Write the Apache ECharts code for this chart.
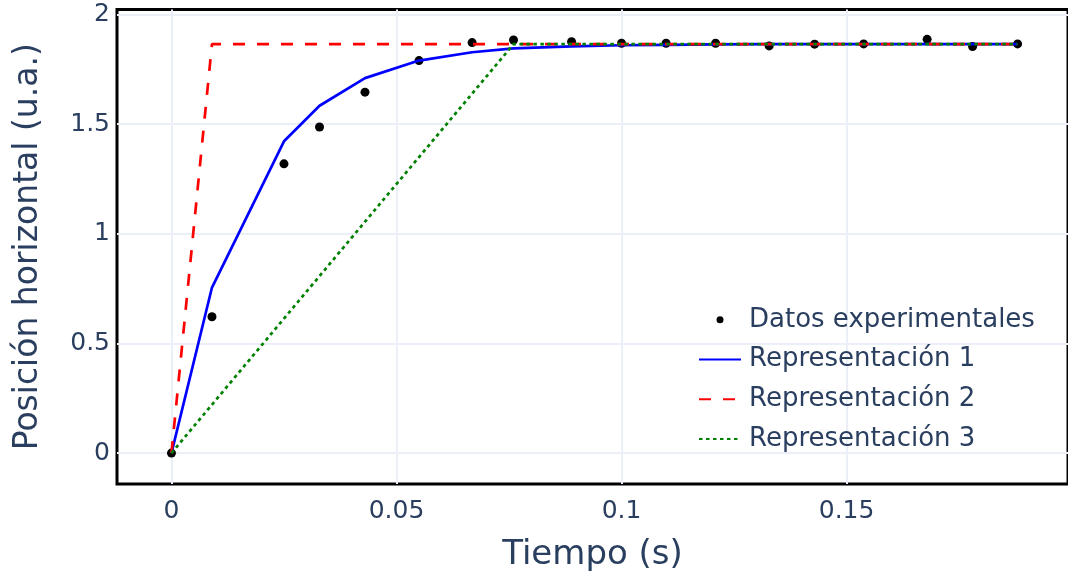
<!DOCTYPE html>
<html>
<head>
<meta charset="utf-8">
<script src="https://cdn.jsdelivr.net/npm/echarts@6/dist/echarts.min.js"></script>
<style>
    html, body { margin: 0; padding: 0; background: #fff; }
    #chart { width: 1068px; height: 577px; }
</style>
</head>
<body>
<div id="chart"></div>
<script>
// tiempo de cada foto (s) y posicion medida (u.a.)
const tiempo = [0, 0.0090, 0.0250, 0.0329, 0.0430, 0.0550, 0.0668, 0.0760, 0.0889, 0.1000,
    0.1099, 0.1209, 0.1328, 0.1429, 0.1538, 0.1679, 0.1780, 0.1880]
const posicion = [0, 0.622, 1.319, 1.487, 1.646, 1.790, 1.872, 1.884, 1.876, 1.869,
    1.869, 1.869, 1.857, 1.865, 1.866, 1.887, 1.854, 1.866]

// representacion 1, evaluada en los mismos tiempos
const rep1 = [0, 0.755, 1.422, 1.584, 1.710, 1.790, 1.828, 1.846, 1.855, 1.860,
    1.862, 1.864, 1.865, 1.865, 1.865, 1.865, 1.865, 1.865]

// representaciones 2 y 3 (tramos rectos)
const tiempoRep2 = [0, 0.0090, 0.1880]
const rep2 = [0, 1.865, 1.865]
const tiempoRep3 = [0, 0.0760, 0.1880]
const rep3 = [0, 1.865, 1.865]

const xRange = [-0.0121, 0.1992]
const yRange = [-0.141, 2.023]
const xStep = 0.05
const yStep = 0.5

const font = 'DejaVu Sans'
const textColor = '#2a3f5f'
const gridColor = '#ebf0f8'

function pares(xs, ys) {
    return xs.map((x, i) => [x, ys[i]])
}

// en la leyenda solo la linea, sin el punto del medio
function itemLinea(name) {
    return { name: name, itemStyle: { opacity: 0 } }
}

let myChart = echarts.init(document.getElementById('chart'))
myChart.setOption({
    animation: false,
    backgroundColor: '#fff',
    textStyle: { fontFamily: font, color: textColor },
    grid: {
        left: 117,
        right: -3,
        top: 9.5,
        bottom: 91.5,
        show: true,
        borderColor: '#000',
        borderWidth: 3,
        backgroundColor: 'transparent'
    },
    legend: {
        orient: 'vertical',
        left: 698,
        top: 300,
        padding: 0,
        itemWidth: 42,
        itemHeight: 7,
        itemGap: 0,
        textStyle: {
            fontFamily: font,
            fontSize: 26,
            color: textColor,
            lineHeight: 39.7,
            padding: [0, 0, 0, 3]
        },
        data: [
            'Datos experimentales',
            itemLinea('Representación 1'),
            itemLinea('Representación 2'),
            itemLinea('Representación 3')
        ]
    },
    xAxis: {
        type: 'value',
        min: xRange[0],
        max: xRange[1],
        minInterval: xStep,
        maxInterval: xStep,
        name: 'Tiempo (s)',
        nameLocation: 'middle',
        nameGap: 54,
        nameTextStyle: { fontFamily: font, fontSize: 34, color: textColor },
        axisLine: { show: false },
        axisTick: { show: false },
        axisLabel: {
            fontFamily: font,
            fontSize: 25,
            color: textColor,
            margin: 15,
            showMinLabel: false,
            showMaxLabel: false
        },
        splitLine: {
            show: true,
            showMinLine: false,
            showMaxLine: false,
            lineStyle: { color: gridColor, width: 2 }
        }
    },
    yAxis: {
        type: 'value',
        min: yRange[0],
        max: yRange[1],
        minInterval: yStep,
        maxInterval: yStep,
        name: 'Posición horizontal (u.a.)',
        nameLocation: 'middle',
        nameGap: 72,
        nameTextStyle: { fontFamily: font, fontSize: 33, color: textColor },
        axisLine: { show: false },
        axisTick: { show: false },
        axisLabel: {
            fontFamily: font,
            fontSize: 25,
            color: textColor,
            margin: 7,
            showMinLabel: false,
            showMaxLabel: false
        },
        splitLine: {
            show: true,
            showMinLine: false,
            showMaxLine: false,
            lineStyle: { color: gridColor, width: 2 }
        }
    },
    series: [
        {
            name: 'Datos experimentales',
            type: 'scatter',
            symbol: 'circle',
            symbolSize: 9,
            itemStyle: { color: '#000', opacity: 1 },
            data: pares(tiempo, posicion)
        },
        {
            name: 'Representación 1',
            type: 'line',
            symbol: 'none',
            lineStyle: { color: '#0000ff', width: 2.7, type: 'solid' },
            itemStyle: { color: '#0000ff' },
            data: pares(tiempo, rep1)
        },
        {
            name: 'Representación 2',
            type: 'line',
            symbol: 'none',
            lineStyle: { color: '#ff0000', width: 2.7, type: [12, 12] },
            itemStyle: { color: '#ff0000' },
            data: pares(tiempoRep2, rep2)
        },
        {
            name: 'Representación 3',
            type: 'line',
            symbol: 'none',
            lineStyle: { color: '#008000', width: 2.7, type: [3.5, 3.5] },
            itemStyle: { color: '#008000' },
            data: pares(tiempoRep3, rep3)
        }
    ]
})
</script>
</body>
</html>
